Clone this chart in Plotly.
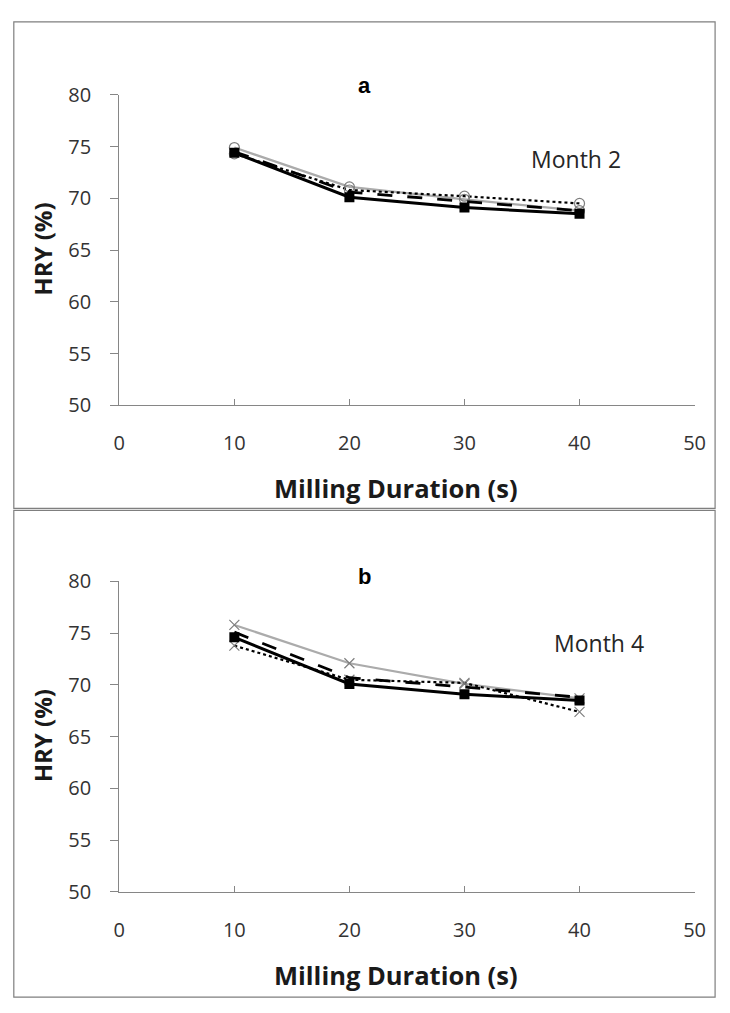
import plotly.graph_objects as go

W, H = 730, 1013

duration = [10, 20, 30, 40]

# Panel a (Month 2)
a_solid = [74.4, 70.1, 69.1, 68.5]
a_dash = [74.5, 70.6, 69.7, 68.8]
a_dot = [74.3, 70.8, 70.2, 69.5]
a_gray = [74.9, 71.1, 69.9, 68.8]

# Panel b (Month 4)
b_solid = [74.6, 70.1, 69.1, 68.5]
b_dash = [75.1, 70.7, 69.8, 68.8]
b_dot = [73.8, 70.5, 70.2, 67.4]
b_gray = [75.8, 72.1, 70.1, 68.7]

x_ticks = [0, 10, 20, 30, 40, 50]
y_ticks = [50, 55, 60, 65, 70, 75, 80]

def px(x):
    return x / W

def py(y):
    return 1 - y / H

fig = go.Figure()

def add_panel(xa, ya, solid, dash, dot, gray, sym):
    fig.add_trace(go.Scatter(x=duration, y=gray, mode="lines+markers", xaxis=xa, yaxis=ya,
                             line=dict(color="#ababab", width=2.2),
                             marker=dict(symbol=sym, size=10, color="#7f7f7f",
                                         line=dict(color="#7f7f7f", width=1.2)),
                             showlegend=False))
    fig.add_trace(go.Scatter(x=duration, y=dot, mode="lines+markers", xaxis=xa, yaxis=ya,
                             line=dict(color="black", width=2.2, dash="dot"),
                             marker=dict(symbol=sym, size=10, color="#7f7f7f",
                                         line=dict(color="#7f7f7f", width=1.2)),
                             showlegend=False))
    fig.add_trace(go.Scatter(x=duration, y=dash, mode="lines", xaxis=xa, yaxis=ya,
                             line=dict(color="black", width=2.8, dash="longdash"),
                             showlegend=False))
    fig.add_trace(go.Scatter(x=duration, y=solid, mode="lines+markers", xaxis=xa, yaxis=ya,
                             line=dict(color="black", width=3),
                             marker=dict(symbol="square", size=10, color="black"),
                             showlegend=False))

add_panel("x", "y", a_solid, a_dash, a_dot, a_gray, "circle-open")
add_panel("x2", "y2", b_solid, b_dash, b_dot, b_gray, "x-thin-open")

xdom = [px(116), px(705)]
tick_font = dict(family="Open Sans", size=20, color="#333333")
ax_common = dict(range=[0, 50], tickvals=x_ticks, showline=True, linecolor="#868686",
                 linewidth=1.2, ticks="inside", ticklen=6, tickcolor="#868686",
                 showgrid=False, zeroline=False, tickfont=tick_font,
                 ticklabelstandoff=20)
ay_common = dict(range=[50, 80], tickvals=y_ticks, showline=True, linecolor="#868686",
                 linewidth=1.2, ticks="outside", ticklen=8, tickcolor="#868686",
                 showgrid=False, zeroline=False, tickfont=tick_font,
                 ticklabelstandoff=15)

fig.update_layout(
    width=W, height=H, autosize=False, margin=dict(l=0, r=0, t=0, b=0),
    paper_bgcolor="white", plot_bgcolor="white",
    xaxis=dict(domain=xdom, anchor="y", **ax_common),
    yaxis=dict(domain=[py(402), py(83)], anchor="x", **ay_common),
    xaxis2=dict(domain=xdom, anchor="y2", **ax_common),
    yaxis2=dict(domain=[py(902), py(583)], anchor="x2", **ay_common),
)

shapes = [
    dict(type="rect", xref="paper", yref="paper", x0=px(8), x1=px(726), y0=py(508), y1=py(8),
         line=dict(color="#7f7f7f", width=1.2)),
    dict(type="rect", xref="paper", yref="paper", x0=px(8), x1=px(726), y0=py(1010), y1=py(510),
         line=dict(color="#7f7f7f", width=1.2)),
]
fig.update_layout(shapes=shapes)

anns = []
def ann(text, x, y, size, bold=False, family="Open Sans", angle=0, color="#1a1a1a"):
    anns.append(dict(text=f"<b>{text}</b>" if bold else text, x=px(x), y=py(y),
                     xref="paper", yref="paper", showarrow=False, textangle=angle,
                     font=dict(family=family, size=size, color=color),
                     xanchor="center", yanchor="middle"))

ann("a", 367, 73, 22, bold=True, family="Liberation Sans", color="black")
ann("b", 367, 578, 22, bold=True, family="Liberation Sans", color="black")
ann("Month 2", 584, 149, 23, color="#262626")
ann("Month 4", 607, 646, 23, color="#262626")
ann("HRY (%)", 37, 242, 24, bold=True, angle=-90)
ann("HRY (%)", 37, 742, 24, bold=True, angle=-90)
ann("Milling Duration (s)", 399, 487, 25.5, bold=True)
ann("Milling Duration (s)", 399, 987, 25.5, bold=True)
fig.update_layout(annotations=anns)

fig.write_html(
    "out.html",
    config={"displayModeBar": False, "responsive": False},
    post_script=(
        "document.documentElement.style.margin='0';"
        "document.documentElement.style.padding='0';"
        "document.documentElement.style.overflow='hidden';"
        "document.body.style.margin='0';"
        "document.body.style.padding='0';"
        "document.body.style.overflow='hidden';"
    ),
)
